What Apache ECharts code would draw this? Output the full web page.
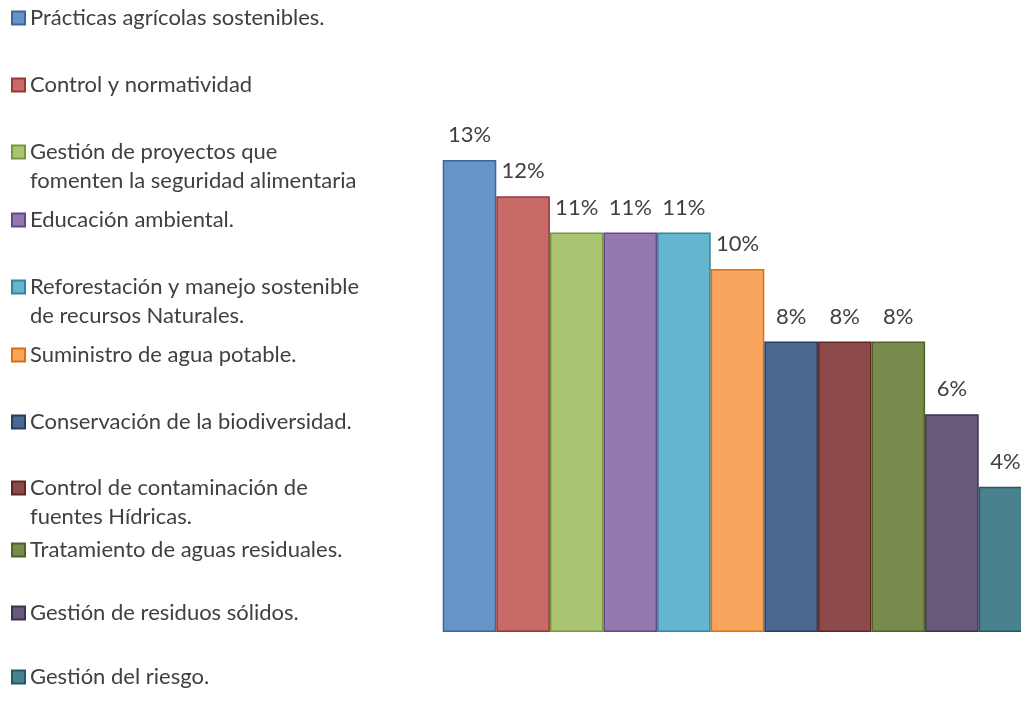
<!DOCTYPE html>
<html>
<head>
<meta charset="utf-8">
<script src="https://cdn.jsdelivr.net/npm/echarts@6/dist/echarts.min.js"></script>
<style>html,body{margin:0;padding:0;background:#fff}#c{width:1021px;height:702px}</style>
</head>
<body>
<div id="c"></div>
<script>
const categories = ['Prácticas agrícolas sostenibles.', 'Control y normatividad', 'Gestión de proyectos que\nfomenten la seguridad alimentaria', 'Educación ambiental.', 'Reforestación y manejo sostenible\nde recursos Naturales.', 'Suministro de agua potable.', 'Conservación de la biodiversidad.', 'Control de contaminación de\nfuentes Hídricas.', 'Tratamiento de aguas residuales.', 'Gestión de residuos sólidos.', 'Gestión del riesgo.'];
const values = [13, 12, 11, 11, 11, 10, 8, 8, 8, 6, 4];
const fills = ['#6794C8', '#C86A68', '#AAC471', '#9479B0', '#63B6CD', '#F8A65E', '#4A6890', '#8C4B4A', '#788A4C', '#695A7B', '#4A818E'];
const borders = ['#3C6797', '#953937', '#779640', '#634987', '#31869D', '#E46C0A', '#263F60', '#632523', '#4F6228', '#3E3151', '#215967'];
const legendY = [18, 85, 152, 220, 287, 355, 422, 488, 550, 613, 677];

const chart = echarts.init(document.getElementById('c'));
const FONT = 'Lato';
const FS = 22;
const LH = 29;
const series = categories.map((name, i) => ({
  type: 'bar',
  name: name,
  data: [values[i]],
  barGap: '0%',
  barCategoryGap: '0%',
  itemStyle: { color: fills[i], borderColor: borders[i], borderWidth: 1.5 },
  label: { show: true, position: 'top', distance: 14, formatter: '{c}%', color: '#404040', fontSize: FS, fontFamily: FONT },
  emphasis: { disabled: true }
}));
const legends = categories.map((name, i) => {
  const multi = name.indexOf('\n') >= 0;
  const nLines = multi ? 3 : 1;
  return {
    data: [name],
    orient: 'vertical',
    left: 11,
    top: legendY[i] - nLines * LH / 2,
    icon: 'rect',
    itemWidth: 13,
    itemHeight: 13,
    padding: 0,
    selectedMode: false,
    formatter: multi ? (n => '\u00a0\n' + n) : '{name}',
    textStyle: { color: '#404040', fontSize: FS, fontFamily: FONT, lineHeight: LH }
  };
});
chart.setOption({
  animation: false,
  backgroundColor: '#fff',
  legend: legends,
  grid: { left: 442.7, width: 589.6, top: 160, bottom: 70, containLabel: false, outerBoundsMode: 'none' },
  xAxis: { type: 'category', data: [''], show: false },
  yAxis: { type: 'value', min: 0, max: 13, show: false },
  series: series
});
</script>
</body>
</html>
